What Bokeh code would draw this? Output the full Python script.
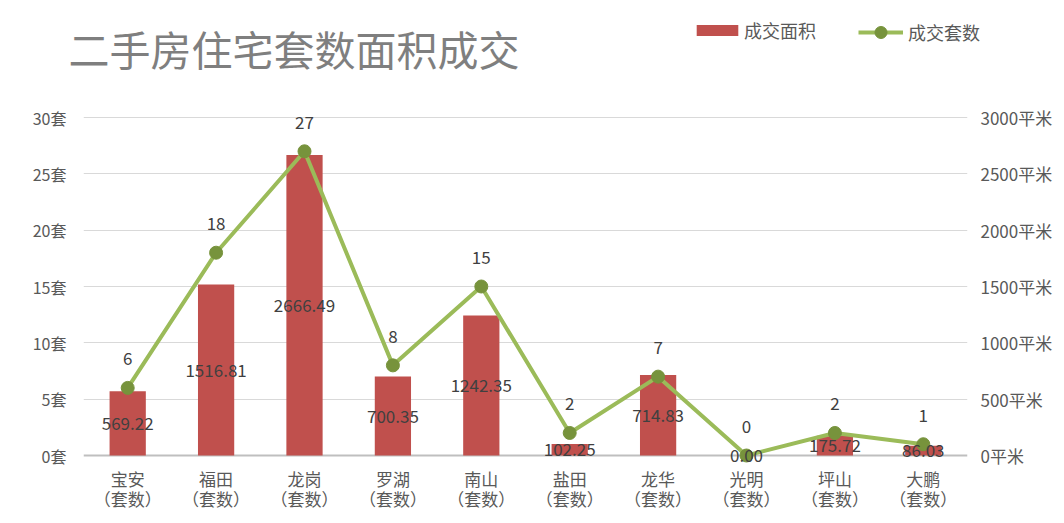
from bokeh.plotting import figure
from bokeh.layouts import column
from bokeh.models import (ColumnDataSource, Range1d, LinearAxis, FactorRange, Grid,
                          PrintfTickFormatter, Legend, LegendItem, FixedTicker, Label)
from bokeh.core.properties import value
from bokeh.embed import file_html
from bokeh.resources import INLINE

districts = ["宝安", "福田", "龙岗", "罗湖", "南山", "盐田", "龙华", "光明", "坪山", "大鹏"]
area = [569.22, 1516.81, 2666.49, 700.35, 1242.35, 102.25, 714.83, 0.00, 175.72, 86.03]
counts = [6, 18, 27, 8, 15, 2, 7, 0, 2, 1]
left_ticks = [0, 5, 10, 15, 20, 25, 30]
right_ticks = [0, 500, 1000, 1500, 2000, 2500, 3000]
suffix = "（套数）"
title_text = "二手房住宅套数面积成交"
area_name = "成交面积"
count_name = "成交套数"

FONT = "Noto Sans CJK SC"
BAR_C = "#C0504D"
LINE_C = "#9BBB59"
MARK_C = "#77933C"
factors = [d + "\n" + suffix for d in districts]

src = ColumnDataSource(dict(
    d=factors,
    area=area,
    mid=[a / 2 for a in area],
    area_lbl=["%.2f" % a for a in area],
    cnt=counts,
    cnt_lbl=[str(c) for c in counts],
))

W = 1064
HEAD_H = 88
MAIN_H = 523 - HEAD_H

# ---------- header: title + legend ----------
head = figure(width=W, height=HEAD_H, x_range=FactorRange(*factors, range_padding=0),
              y_range=Range1d(0, 30), output_backend="svg", toolbar_location=None,
              min_border=0, min_border_left=0, min_border_right=0,
              min_border_top=0, min_border_bottom=0,
              x_axis_type=None, y_axis_type=None)
head.frame_align = False
head.outline_line_color = None
head.grid.grid_line_color = None

head.add_layout(Label(x=68, y=HEAD_H - 47, x_units="screen", y_units="screen",
                      text=title_text, text_font=FONT, text_font_size="41px",
                      text_color="#7F7F7F", text_baseline="middle", text_align="left"))

# hidden renderers that only feed the legend glyphs
lg_bar = head.vbar(x="d", top="area", width=0.41, source=src,
                   fill_color=BAR_C, line_color=None, visible=False)
lg_line = head.line(x="d", y="cnt", source=src, line_color=LINE_C, line_width=4,
                    visible=False)
lg_mark = head.scatter(x="d", y="cnt", source=src, fill_color=MARK_C, line_color=MARK_C,
                       visible=False)

leg_a = Legend(items=[LegendItem(label=area_name, renderers=[lg_bar], index=0)],
               location=(691, HEAD_H - 43), glyph_width=52, glyph_height=14,
               padding=0, margin=0, label_standoff=1, label_text_font=FONT,
               label_text_font_size="18px", label_text_color="#595959",
               border_line_color=None, background_fill_alpha=0,
               inactive_fill_alpha=0)
leg_b = Legend(items=[LegendItem(label=count_name, renderers=[lg_line, lg_mark], index=0)],
               location=(858, HEAD_H - 47), glyph_width=45, glyph_height=30,
               padding=0, margin=0, label_standoff=5, label_text_font=FONT,
               label_text_font_size="18px", label_text_color="#595959",
               border_line_color=None, background_fill_alpha=0,
               inactive_fill_alpha=0)
head.add_layout(leg_a, "center")
head.add_layout(leg_b, "center")

# ---------- main chart ----------
frame_top = HEAD_H + 2       # absolute y of frame top
zero_y, thirty_y = 455, 117  # absolute y of 0 and 30 gridlines
frame_bot = 466              # frame extends a little below zero so labels are not clipped
ppu = (zero_y - thirty_y) / 30.0
y_top = (zero_y - frame_top) / ppu
y_bot = -(frame_bot - zero_y) / ppu

p = figure(width=W, height=MAIN_H, x_range=FactorRange(*factors, range_padding=0),
           y_range=Range1d(y_bot, y_top), output_backend="svg", toolbar_location=None,
           min_border_left=83, min_border_right=97, min_border_top=2,
           min_border_bottom=523 - frame_bot)
p.frame_align = False
p.outline_line_color = None
p.extra_y_ranges = {"area": Range1d(y_bot * 100, y_top * 100)}

p.xgrid.grid_line_color = None
p.ygrid.grid_line_color = "#D9D9D9"
p.ygrid.grid_line_width = 1
p.ygrid.ticker = FixedTicker(ticks=left_ticks[1:])
# baseline (category axis line) at zero
p.add_layout(Grid(dimension=1, ticker=FixedTicker(ticks=[0]),
                  grid_line_color="#BFBFBF", grid_line_width=2))

p.vbar(x="d", top="area", bottom=0, width=0.41, source=src, y_range_name="area",
       fill_color=BAR_C, line_color=None)

p.line(x="d", y="cnt", source=src, line_color=LINE_C, line_width=4)
p.scatter(x="d", y="cnt", source=src, size=13, fill_color=MARK_C, line_color=MARK_C)
p.text(x="d", y="cnt", text="cnt_lbl", source=src, y_offset=-29,
       text_align="center", text_baseline="middle", text_font=value(FONT),
       text_font_size="17px", text_color="#404040")
p.text(x="d", y="mid", text="area_lbl", source=src, y_range_name="area",
       text_align="center", text_baseline="middle", text_font=value(FONT),
       text_font_size="17px", text_color="#404040")

xa = p.xaxis[0]
xa.axis_line_color = None
xa.major_tick_line_color = None
xa.minor_tick_line_color = None
xa.major_label_text_font = FONT
xa.major_label_text_font_size = "17px"
xa.major_label_text_color = "#595959"
xa.major_label_text_line_height = 0.8
xa.major_label_standoff = -7

ya = p.yaxis[0]
ya.ticker = FixedTicker(ticks=left_ticks)
ya.formatter = PrintfTickFormatter(format="%d套")
ya.axis_line_color = None
ya.major_tick_line_color = None
ya.minor_tick_line_color = None
ya.major_label_text_font = FONT
ya.major_label_text_font_size = "16px"
ya.major_label_text_color = "#595959"
ya.major_label_standoff = 11

ra = LinearAxis(y_range_name="area", ticker=FixedTicker(ticks=right_ticks),
                formatter=PrintfTickFormatter(format="%d平米"))
ra.axis_line_color = None
ra.major_tick_line_color = None
ra.minor_tick_line_color = None
ra.major_label_text_font = FONT
ra.major_label_text_font_size = "17px"
ra.major_label_text_color = "#595959"
ra.major_label_standoff = 7
p.add_layout(ra, "right")

layout = column(head, p, spacing=0)
open("out.html", "w").write(file_html(layout, INLINE))
